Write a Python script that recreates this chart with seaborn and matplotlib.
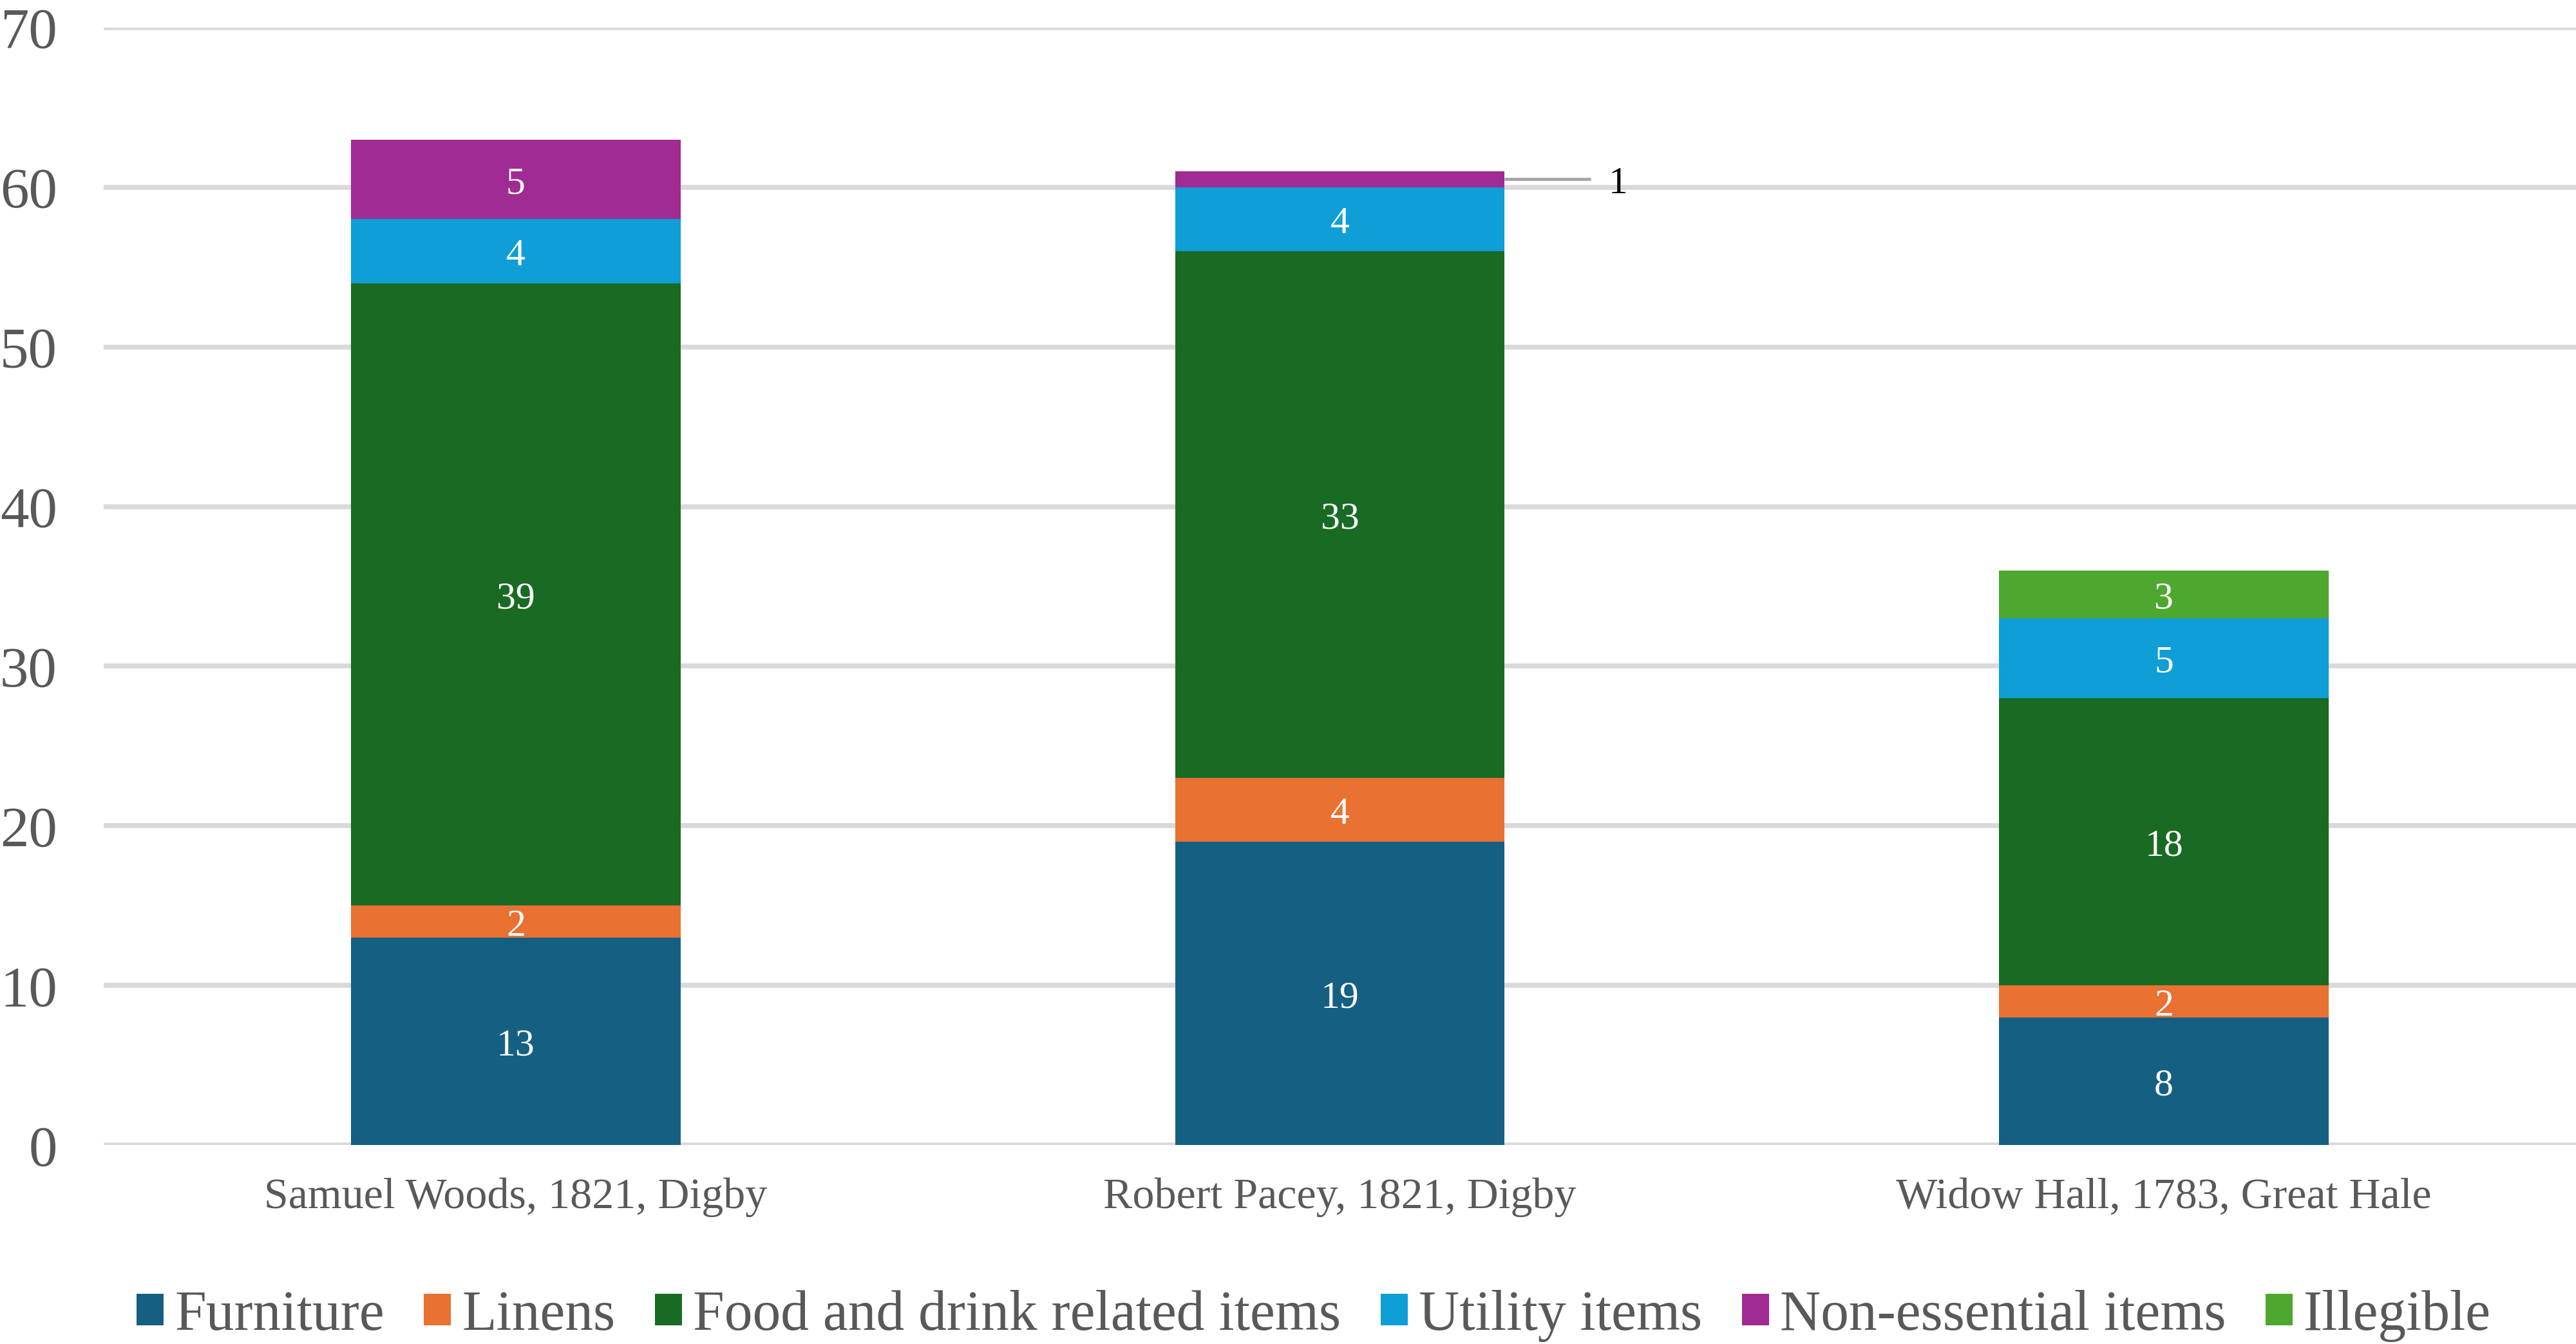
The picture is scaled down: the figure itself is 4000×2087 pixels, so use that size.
import numpy as np
import pandas as pd
import matplotlib
matplotlib.use("Agg")
import matplotlib.pyplot as plt
import seaborn as sns

# Data
people = ["Samuel Woods, 1821, Digby", "Robert Pacey, 1821, Digby", "Widow Hall, 1783, Great Hale"]
series = ["Furniture", "Linens", "Food and drink related items", "Utility items",
          "Non-essential items", "Illegible"]
furniture = [13, 19, 8]
linens = [2, 4, 2]
food = [39, 33, 18]
utility = [4, 4, 5]
non_essential = [5, 1, 0]
illegible = [0, 0, 3]
yticks = [0, 10, 20, 30, 40, 50, 60, 70]

colors = ["#156082", "#E97132", "#196B24", "#0F9ED5", "#A02B93", "#4EA72E"]
values = [furniture, linens, food, utility, non_essential, illegible]

sns.set_theme(style="white")
plt.rcParams["font.family"] = ["Liberation Serif", "DejaVu Serif"]

fig = plt.figure(figsize=(40, 20.87), dpi=100)
ax = fig.add_axes([0.04025, 0.148, 0.95975, 0.8314])

bottom = np.zeros(len(people))
for name, vals, col in zip(series, values, colors):
    df = pd.DataFrame({"person": people, "count": vals})
    sns.barplot(data=df, x="person", y="count", order=people, color=col,
                saturation=1, width=0.4, bottom=bottom, linewidth=0,
                label=name, ax=ax, errorbar=None, zorder=3)
    cont = ax.containers[-1]
    labels = []
    for i, v in enumerate(vals):
        if v == 0 or (name == "Non-essential items" and i == 1):
            labels.append("")
        else:
            labels.append(str(v))
    anns = ax.bar_label(cont, labels=labels, label_type="center", color="white",
                        fontsize=43)
    for a in anns:
        a.xyann = (0, -5.5)
    bottom = bottom + np.array(vals)

# the small "1" segment gets an outside label with a leader line
top_rp = furniture[1] + linens[1] + food[1] + utility[1]
mid = top_rp + non_essential[1] / 2
ax.plot([1.2, 1.304], [mid, mid], color="#A6A6A6", lw=3.5, zorder=4,
        solid_capstyle="butt")
ax.text(1.338, mid - 0.3, str(non_essential[1]), ha="center", va="center",
        fontsize=43, color="black")

ax.set_xlim(-0.5, 2.5)
ax.set_ylim(0, 70)
ax.set_yticks(yticks)
ax.yaxis.grid(True, color="#D9D9D9", linewidth=5.5, zorder=0)
ax.set_axisbelow(True)
for s in ax.spines.values():
    s.set_visible(False)
ax.tick_params(axis="y", length=0, pad=52, labelsize=64, labelcolor="#595959")
ax.tick_params(axis="x", length=0, pad=36, labelsize=49, labelcolor="#595959")
ax.set_xlabel("")
ax.set_ylabel("")

handles, labs = ax.get_legend_handles_labels()
if ax.get_legend() is not None:
    ax.get_legend().remove()
leg = fig.legend(handles, labs, loc="center", bbox_to_anchor=(0.51, 0.021),
                 ncol=6, frameon=False, fontsize=63, handlelength=0.48,
                 handleheight=0.48, handletextpad=0.2, columnspacing=0.7)
for t in leg.get_texts():
    t.set_color("#595959")

fig.savefig("out.png", dpi=100)
